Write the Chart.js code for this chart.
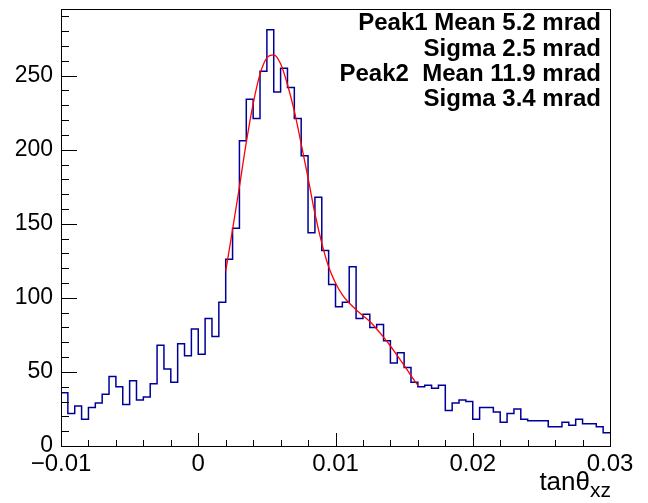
<!DOCTYPE html>
<html><head><meta charset="utf-8">
<script src="https://cdn.jsdelivr.net/npm/chart.js@4"></script>
<style>html,body{margin:0;padding:0;background:#fff;overflow:hidden}canvas{display:block}</style>
</head><body>
<canvas id="c" width="648" height="503"></canvas>
<script>
// ---- data ----
const binLow = -0.01;
const binWidth = 0.0005;
const counts = [36,22,27,18,26,29,35,47,40,28,44,31,33,42,68,52,43,69,61,79,
                62,86,74,97,126,147,206,234,221,253,281,239,255,242,221,196,144,168,132,109,
                94,97,121,86,89,80,82,71,56,63,53,43,40,41,39,41,24,29,31,30,
                18,26,26,23,16,22,25,18,17,17,17,13,13,16,14,18,15,15,13,9];
const fitX = [0.0020,0.0025,0.0030,0.0035,0.0040,0.0045,0.0050,0.0055,0.0060,0.0065,
              0.0070,0.0075,0.0080,0.0085,0.0090,0.0095,0.0100,0.0105,0.0110,0.0115,
              0.0120,0.0125,0.0130,0.0135,0.0140,0.0145,0.0150,0.0155,0.0160];
const fitY = [118,146,175,205,231,251,262,264,258,244,
              226,204,181,157,137,121,110,102,96.5,92,
              88,84,79,73.5,67.5,61,54.5,47.5,41];
const xMin = -0.01, xMax = 0.03, yMin = 0, yMax = 295;
const xMajorTicks = [-0.01, 0, 0.01, 0.02, 0.03];
const xTickLabels = ['\u22120.01', '0', '0.01', '0.02', '0.03'];
const yMajorTicks = [0, 50, 100, 150, 200, 250];
const yTickLabels = ['0', '50', '100', '150', '200', '250'];
const xMinorStep = 0.002, yMinorStep = 10;
const infoLines = ['Peak1 Mean 5.2 mrad', 'Sigma 2.5 mrad', 'Peak2  Mean 11.9 mrad', 'Sigma 3.4 mrad'];
const xTitleMain = 'tan\u03B8', xTitleSub = 'xz';

// ---- build datasets ----
const histPoints = counts.map((c, i) => ({x: binLow + i * binWidth, y: c}));
histPoints.push({x: binLow + counts.length * binWidth, y: counts[counts.length - 1]});
const fitPoints = fitX.map((x, i) => ({x: x, y: fitY[i]}));

const FONT = '"Liberation Sans", Arial, sans-serif';

const rootDeco = {
  id: 'rootDeco',
  afterDraw(chart) {
    const ctx = chart.ctx, a = chart.chartArea;
    const xs = chart.scales.x, ys = chart.scales.y;
    ctx.save();
    ctx.strokeStyle = '#000';
    ctx.lineWidth = 1;
    // frame
    ctx.strokeRect(Math.round(a.left) + 0.5, Math.round(a.top) + 0.5,
                   Math.round(a.right - a.left), Math.round(a.bottom - a.top));
    ctx.beginPath();
    // y ticks (inside, left)
    const nY = Math.round((yMax - yMin) / yMinorStep);
    for (let i = 0; i <= nY; i++) {
      const v = yMin + i * yMinorStep;
      if (v > yMax) break;
      const p = Math.round(ys.getPixelForValue(v)) + 0.5;
      const len = (v % 50 === 0) ? 16 : 8;
      ctx.moveTo(Math.round(a.left), p);
      ctx.lineTo(Math.round(a.left) + len, p);
    }
    // x ticks (inside, bottom)
    const nX = Math.round((xMax - xMin) / xMinorStep);
    for (let i = 0; i <= nX; i++) {
      const v = xMin + i * xMinorStep;
      const p = Math.round(xs.getPixelForValue(v)) + 0.5;
      const len = (i % 5 === 0) ? 13 : 6;
      ctx.moveTo(p, Math.round(a.bottom));
      ctx.lineTo(p, Math.round(a.bottom) - len);
    }
    ctx.stroke();

    // info text
    ctx.fillStyle = '#000';
    ctx.textAlign = 'right';
    ctx.textBaseline = 'alphabetic';
    ctx.font = 'bold 24px ' + FONT;
    const baselines = [30, 55.5, 81, 106];
    infoLines.forEach((t, i) => ctx.fillText(t, 601, baselines[i]));

    // x-axis title
    ctx.textAlign = 'left';
    ctx.font = '26px ' + FONT;
    const w1 = ctx.measureText(xTitleMain).width;
    ctx.font = '21px ' + FONT;
    const w2 = ctx.measureText(xTitleSub).width;
    const x0 = 611 - w1 - w2;
    ctx.font = '26px ' + FONT;
    ctx.fillText(xTitleMain, x0, 489.5);
    ctx.font = '21px ' + FONT;
    ctx.fillText(xTitleSub, x0 + w1, 497);
    ctx.restore();
  }
};

new Chart(document.getElementById('c'), {
  type: 'line',
  data: {
    datasets: [
      {data: histPoints, stepped: true, borderColor: '#000099', borderWidth: 1.5,
       pointRadius: 0, fill: false, order: 2},
      {data: fitPoints, borderColor: '#ff0000', borderWidth: 1.3, pointRadius: 0,
       fill: false, cubicInterpolationMode: 'monotone', order: 1}
    ]
  },
  options: {
    responsive: false,
    devicePixelRatio: 1,
    animation: false,
    events: [],
    layout: {padding: {top: 9, right: 38, left: 0, bottom: 0}},
    plugins: {legend: {display: false}, tooltip: {enabled: false}, title: {display: false}},
    scales: {
      x: {
        type: 'linear', min: xMin, max: xMax,
        grid: {display: false, drawTicks: false},
        border: {display: false},
        afterBuildTicks: s => { s.ticks = xMajorTicks.map(v => ({value: v})); },
        afterFit: s => { s.height = 57; s.paddingLeft = 0; s.paddingRight = 0; },
        ticks: {
          autoSkip: false, maxRotation: 0, minRotation: 0, padding: 4,
          color: '#000', font: {family: FONT, size: 24},
          callback: (v, i) => xTickLabels[i]
        }
      },
      y: {
        type: 'linear', min: yMin, max: yMax,
        grid: {display: false, drawTicks: false},
        border: {display: false},
        afterBuildTicks: s => { s.ticks = yMajorTicks.map(v => ({value: v})); },
        afterFit: s => { s.width = 61; s.paddingTop = 0; s.paddingBottom = 0; },
        ticks: {
          autoSkip: false, padding: 8,
          color: '#000', font: {family: FONT, size: 23},
          callback: (v, i) => yTickLabels[i]
        }
      }
    }
  },
  plugins: [rootDeco]
});
</script>
</body></html>
